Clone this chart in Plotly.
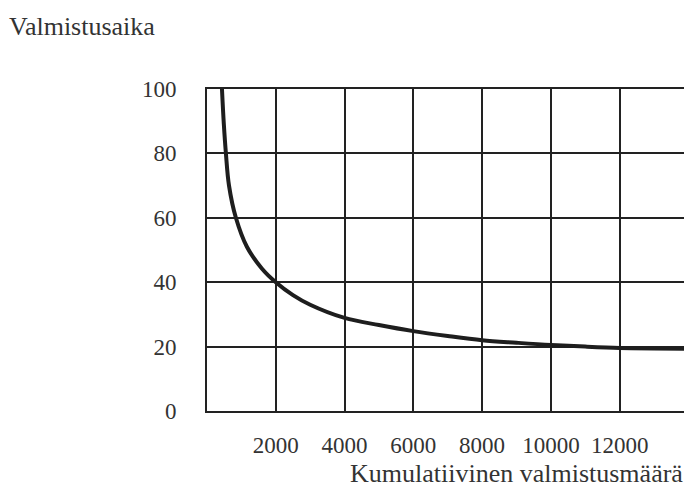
import plotly.graph_objects as go

# Learning curve: cumulative production vs. production time
cumulative = [435, 490, 550, 640, 840, 1160, 1600, 2000, 2500, 3000, 4000, 5000, 6000, 7000, 8000, 9000, 10000, 11000, 12000, 13000, 13900]
prod_time = [100, 89, 80, 70, 60, 51, 44.2, 40, 36, 33, 28.9, 26.7, 24.8, 23.3, 22.0, 21.2, 20.5, 20.0, 19.6, 19.4, 19.3]

x_ticks = [2000, 4000, 6000, 8000, 10000, 12000]
x_tick_labels = ["2000", "4000", "6000", "8000", "10000", "12000"]
y_ticks = [0, 20, 40, 60, 80, 100]

font_family = "Liberation Serif, Times New Roman, serif"
text_color = "#333333"

fig = go.Figure()
fig.add_trace(go.Scatter(
    x=cumulative, y=prod_time, mode="lines",
    line=dict(color="#1e1e1e", width=4, shape="spline", smoothing=1.0),
    hoverinfo="skip", showlegend=False,
))

fig.update_layout(
    width=684, height=481,
    margin=dict(l=199, r=5, t=81, b=78),
    paper_bgcolor="white", plot_bgcolor="white",
    font=dict(family=font_family, color=text_color, size=22),
    xaxis=dict(
        range=[0, 13900], tickvals=x_ticks, ticktext=x_tick_labels,
        showgrid=True, gridcolor="#222222", gridwidth=1.5,
        showline=True, linecolor="#222222", linewidth=2, mirror=True,
        zeroline=False, ticks="", ticklabelstandoff=12,
        tickfont=dict(size=23, family=font_family, color=text_color),
    ),
    yaxis=dict(
        range=[0, 100], tickvals=y_ticks,
        showgrid=True, gridcolor="#222222", gridwidth=1.5,
        showline=True, linecolor="#222222", linewidth=2, mirror=True,
        zeroline=False, ticks="", ticklabelstandoff=24,
        tickfont=dict(size=23, family=font_family, color=text_color),
    ),
    annotations=[
        dict(text="Valmistusaika", xref="paper", yref="paper",
             x=-201/480, y=1 + 62/322, xanchor="left", yanchor="middle",
             showarrow=False, font=dict(size=26, family=font_family, color=text_color)),
        dict(text="Kumulatiivinen valmistusmäärä", xref="paper", yref="paper",
             x=1.0, y=-62/322, xanchor="right", yanchor="middle",
             showarrow=False, font=dict(size=26, family=font_family, color=text_color)),
    ],
)

fig.write_html("out.html")
